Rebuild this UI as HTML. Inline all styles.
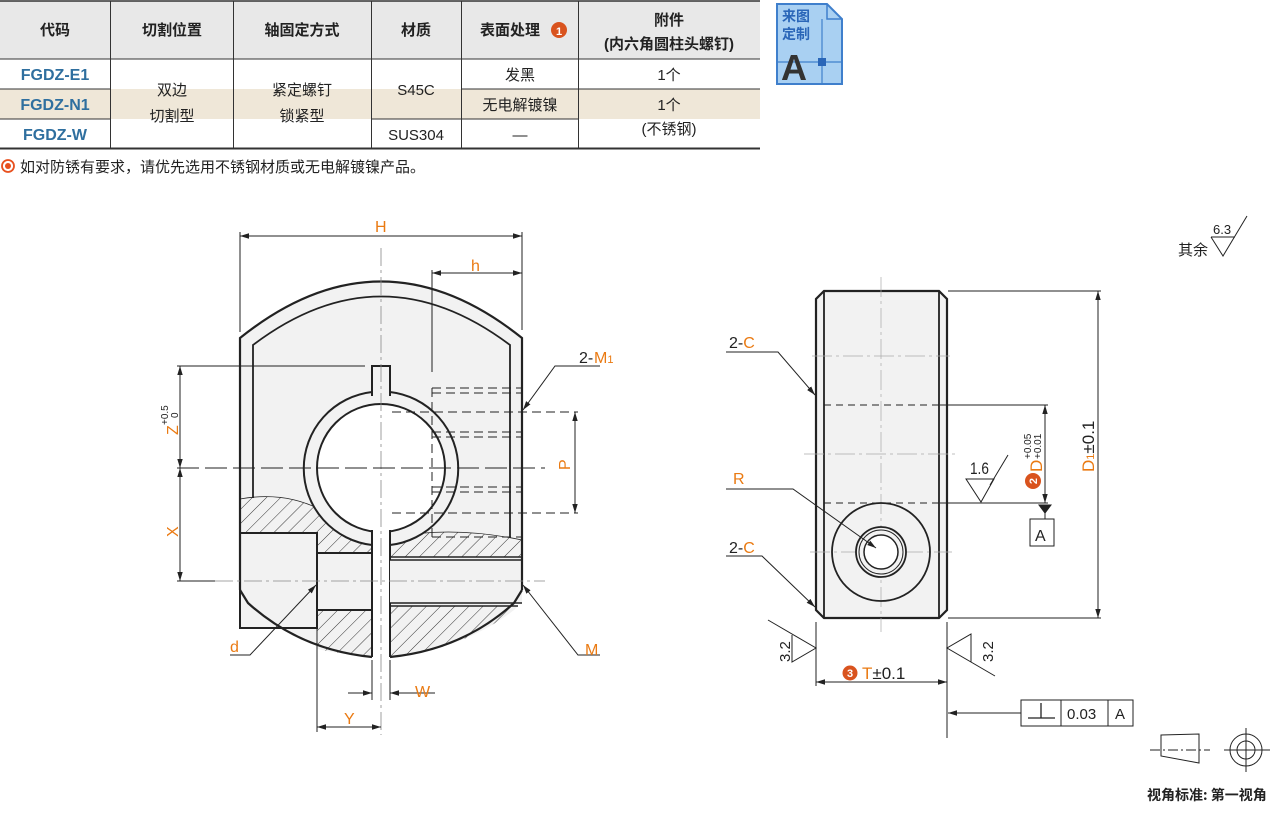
<!DOCTYPE html>
<html><head><meta charset="utf-8"><style>
html,body{margin:0;padding:0;background:#fff;width:1280px;height:816px;overflow:hidden}
svg{display:block}
text{font-family:"Liberation Sans","Noto Sans CJK SC",sans-serif}
.cj{font-family:"Noto Sans CJK SC","Liberation Sans",sans-serif}
.o{fill:#ea7a12}
</style></head><body>
<svg width="1280" height="816" viewBox="0 0 1280 816" xmlns="http://www.w3.org/2000/svg">
<defs>
<pattern id="h" patternUnits="userSpaceOnUse" width="10" height="10" patternTransform="rotate(45)">
<rect width="10" height="10" fill="#f2f2f2"/><line x1="0" y1="0" x2="0" y2="10" stroke="#222" stroke-width="0.9"/></pattern>
<marker id="a" viewBox="0 0 10 10" refX="10" refY="5" markerWidth="9" markerHeight="9" orient="auto-start-reverse" markerUnits="userSpaceOnUse"><path d="M0,2 L10,5 L0,8z" fill="#222"/></marker>
</defs>

<!-- TABLE -->
<rect x="0" y="1" width="760" height="58" fill="#e8e8e8"/>
<rect x="0" y="89" width="760" height="30" fill="#efe7d8"/>
<g stroke="#333" stroke-width="1" fill="none">
<line x1="0" y1="1" x2="760" y2="1" stroke-width="1.5"/>
<line x1="0" y1="59" x2="760" y2="59"/>
<line x1="0" y1="148.5" x2="760" y2="148.5" stroke-width="2"/>
<line x1="110.5" y1="1" x2="110.5" y2="148"/>
<line x1="233.5" y1="1" x2="233.5" y2="148"/>
<line x1="371.5" y1="1" x2="371.5" y2="148"/>
<line x1="461.5" y1="1" x2="461.5" y2="148"/>
<line x1="578.5" y1="1" x2="578.5" y2="148"/>
<line x1="0" y1="89" x2="110" y2="89"/><line x1="461" y1="89" x2="760" y2="89"/>
<line x1="0" y1="119" x2="110" y2="119"/><line x1="371" y1="119" x2="578" y2="119"/>
</g>
<g class="cj" font-size="15" text-anchor="middle" fill="#222">
<g font-weight="bold"><text x="55" y="35">代码</text><text x="172" y="35">切割位置</text><text x="302" y="35">轴固定方式</text><text x="416" y="35">材质</text><text x="510" y="35">表面处理</text>
<text x="669" y="25">附件</text><text x="669" y="49">(内六角圆柱头螺钉)</text></g>
<circle cx="559" cy="30" r="8" fill="#d9531e"/><text x="559" y="35" fill="#fff" font-size="11" font-weight="bold">1</text>
<g font-weight="bold" fill="#2f6f9f" font-size="16"><text x="55" y="80">FGDZ-E1</text><text x="55" y="110">FGDZ-N1</text><text x="55" y="140">FGDZ-W</text></g>
<text x="172" y="95">双边</text><text x="172" y="121">切割型</text>
<text x="302" y="95">紧定螺钉</text><text x="302" y="121">锁紧型</text>
<text x="416" y="95">S45C</text><text x="416" y="140">SUS304</text>
<text x="520" y="80">发黑</text><text x="520" y="110">无电解镀镍</text><text x="520" y="140">—</text>
<text x="669" y="80">1个</text><text x="669" y="110">1个</text><text x="669" y="134">(不锈钢)</text>
</g>
<circle cx="8" cy="166" r="6" fill="none" stroke="#e8501e" stroke-width="1.8"/><circle cx="8" cy="166" r="3" fill="#e8501e"/>
<text class="cj" x="20" y="172" font-size="15" fill="#222">如对防锈有要求，请优先选用不锈钢材质或无电解镀镍产品。</text>

<!-- badge -->
<path d="M777,4 H827 L842,19 V84 H777 Z" fill="#a9d0f2" stroke="#3f7fcc" stroke-width="2"/>
<path d="M827,4 V19 H842" fill="none" stroke="#3f7fcc" stroke-width="1.5"/>
<line x1="777" y1="62" x2="842" y2="62" stroke="#3f7fcc" stroke-width="1.2"/>
<line x1="822" y1="19" x2="822" y2="84" stroke="#3f7fcc" stroke-width="1.2"/>
<rect x="818" y="58" width="8" height="8" fill="#2a66b8"/>
<text class="cj" x="782" y="21" font-size="14" font-weight="bold" fill="#2a66b8">来图</text>
<text class="cj" x="782" y="39" font-size="14" font-weight="bold" fill="#2a66b8">定制</text>
<text x="781" y="80" font-size="36" font-weight="bold" fill="#333">A</text>

<!-- LEFT VIEW -->
<g stroke="#222" fill="none">
<path d="M240,338 Q381,225 522,338 V590 L514,603 Q462,650 390,657 H372 Q300,650 248,603 L240,590 Z" fill="#f2f2f2" stroke="none"/>
<!-- hatches -->
<path d="M240,499 Q290,490 330,515 Q350,528 372,532 V553 H317 V533 H240 Z" fill="url(#h)" stroke="none"/>
<path d="M317,610 H372 V657 Q340,654 317,649 Z" fill="url(#h)" stroke="none"/>
<path d="M390,538 Q450,525 522,540 V557 H390 Z" fill="url(#h)" stroke="none"/>
<path d="M390,606 H518 L514,610 Q462,650 390,657 Z" fill="url(#h)" stroke="none"/>
<path d="M240,499 Q290,490 330,515 Q350,528 372,532" stroke-width="0.8"/>
<path d="M390,538 Q450,525 522,540" stroke-width="0.8"/>
<!-- ring & bore -->
<circle cx="381" cy="468" r="77" fill="#f2f2f2" stroke="none"/>
<circle cx="381" cy="468" r="64" fill="#fff" stroke-width="2"/>
<path d="M390,392 A77,77 0 0 1 390,545 M372,545 A77,77 0 0 1 372,392" stroke-width="2"/>
<rect x="372.5" y="366" width="17" height="30" fill="#f2f2f2" stroke="none"/>
<path d="M372,396 V366 H390 V396" stroke-width="2"/>
<rect x="373" y="528" width="16" height="132" fill="#fff" stroke="none"/>
<path d="M372,530 V657 M390,530 V657" stroke-width="2"/>
<!-- counterbore / holes -->
<rect x="240" y="533" width="77" height="95" fill="#f2f2f2" stroke-width="2"/>
<rect x="318" y="554" width="53" height="55" fill="#f2f2f2" stroke="none"/>
<path d="M317,553 H372 M317,610 H372" stroke-width="2"/>
<rect x="390" y="560" width="132" height="43" fill="#f2f2f2" stroke="none"/>
<path d="M390,557 H522 M390,560 H522 M390,603 H522 M390,606 H518" stroke-width="1.6"/>
<!-- outlines -->
<path d="M240,590 V338 Q381,225 522,338 V590" stroke-width="2.2"/>
<path d="M240,590 L248,603 Q300,650 372,657" stroke-width="2.2"/>
<path d="M522,590 L514,603 Q462,650 390,657" stroke-width="2.2"/>
<path d="M253,498 V345 Q381,248 510,345 V538" stroke-width="1.8"/>
<!-- hidden -->
<g stroke-dasharray="9,5" stroke-width="1">
<path d="M432,388 V537"/>
<path d="M432,388 H522 M432,393 H522 M432,432 H522 M432,437 H522 M432,487 H522 M432,492 H522 M432,537 H522"/>
<path d="M392,412 H578 M392,513 H578"/>
</g>
<!-- centerlines -->
<g stroke="#888" stroke-width="0.8" stroke-dasharray="18,4,3,4">
<path d="M381,248 V735"/><path d="M215,581 H545"/>
</g>
<path d="M177,468 H545" stroke-width="1" stroke-dasharray="22,6"/>
<!-- dims -->
<g stroke-width="1">
<path d="M240,232 V332 M522,232 V330"/>
<path d="M240,236 H522" marker-start="url(#a)" marker-end="url(#a)"/>
<path d="M432,270 V372"/>
<path d="M432,273 H522" marker-start="url(#a)" marker-end="url(#a)"/>
<path d="M177,366 H365 M177,581 H215"/>
<path d="M180,366 V468" marker-start="url(#a)" marker-end="url(#a)"/>
<path d="M180,468 V581" marker-start="url(#a)" marker-end="url(#a)"/>
<path d="M575,412 V513" marker-start="url(#a)" marker-end="url(#a)"/>
<path d="M600,366 H555 L523,410" marker-end="url(#a)"/>
<path d="M600,655 H578 L523,585" marker-end="url(#a)"/>
<path d="M230,655 H250 L316,585" marker-end="url(#a)"/>
<path d="M372,660 V700 M390,660 V700"/>
<path d="M348,693 H372" marker-end="url(#a)"/>
<path d="M435,693 H390" marker-end="url(#a)"/>
<path d="M317,612 V732"/>
<path d="M317,727 H381" marker-start="url(#a)" marker-end="url(#a)"/>
</g>
</g>
<g font-size="16" class="o">
<text x="375" y="232">H</text><text x="471" y="271">h</text>
<text x="579" y="363" fill="#222">2-</text><text x="594" y="363">M<tspan font-size="11">1</tspan></text>
<text x="585" y="655">M</text><text x="230" y="652">d</text>
<text x="415" y="697">W</text><text x="344" y="724">Y</text>
<text transform="translate(570,470) rotate(-90)">P</text>
<text transform="translate(178,537) rotate(-90)">X</text>
<text transform="translate(178,435) rotate(-90)">Z</text>
</g>
<text transform="translate(168,425) rotate(-90)" font-size="10" fill="#222">+0.5</text>
<text transform="translate(178,418) rotate(-90)" font-size="10" fill="#222">0</text>

<!-- RIGHT VIEW -->
<g stroke="#222" fill="none">
<path d="M824,291 H939 L947,299 V610 L939,618 H824 L816,610 V299 Z" fill="#f2f2f2" stroke-width="2.2"/>
<path d="M824,291 V618 M939,291 V618" stroke-width="1.8"/>
<path d="M824,405 H939 M824,503 H939" stroke-dasharray="7,5" stroke-width="1"/>
<g stroke="#aaa" stroke-width="0.7" stroke-dasharray="20,4,3,4">
<path d="M881,277 V632"/><path d="M812,356 H950 M804,454 H955 M810,552 H952"/>
</g>
<circle cx="881" cy="552" r="49" stroke-width="1.8"/>
<circle cx="881" cy="552" r="25" stroke-width="1.8" fill="#f2f2f2"/>
<circle cx="881" cy="552" r="22" stroke-width="1"/>
<circle cx="881" cy="552" r="17" stroke-width="1.5" fill="#fff"/>
<g stroke-width="1">
<path d="M940,405 H1048 M940,503 H1048"/>
<path d="M1045,405 V503" marker-start="url(#a)" marker-end="url(#a)"/>
<path d="M1039,505 H1051 L1045,513 Z" fill="#222"/>
<path d="M1045,513 V519"/>
<rect x="1030" y="519" width="24" height="27"/>
<path d="M948,291 H1101 M948,618 H1101"/>
<path d="M1098,291 V618" marker-start="url(#a)" marker-end="url(#a)"/>
<path d="M816,622 V686 M947,622 V738"/>
<path d="M816,682 H947" marker-start="url(#a)" marker-end="url(#a)"/>
<path d="M966,479 H994 L981,502 Z M990,485 L1008,455"/>
<path d="M768,620 L816,648 L792,662 V635"/>
<path d="M995,676 L947,648 L971,634 V662"/>
<rect x="1021" y="700" width="112" height="26"/>
<path d="M1061,700 V726 M1108,700 V726"/>
<path d="M1021,713 H948" marker-end="url(#a)"/>
<path d="M1028,718 H1055 M1041,703 V718" stroke-width="1.3"/>
<path d="M726,352 H778 L815,395" marker-end="url(#a)"/>
<path d="M726,556 H762 L815,607" marker-end="url(#a)"/>
<path d="M726,489 H793 L876,548" marker-end="url(#a)"/>
</g>
</g>
<text x="1035" y="541" font-size="16" fill="#222">A</text>
<text x="1067" y="719" font-size="15" fill="#222">0.03</text><text x="1115" y="719" font-size="15" fill="#222">A</text>
<text x="970" y="474" font-size="17" fill="#222" transform="translate(970,474) scale(0.8,1) translate(-970,-474)">1.6</text>
<text x="729" y="348" font-size="16" fill="#222">2-<tspan class="o">C</tspan></text>
<text x="729" y="553" font-size="16" fill="#222">2-<tspan class="o">C</tspan></text>
<text x="733" y="484" font-size="16" class="o">R</text>
<circle cx="850" cy="673" r="7.5" fill="#d9531e"/><text x="850" y="677" font-size="11" font-weight="bold" fill="#fff" text-anchor="middle">3</text>
<text x="862" y="679" font-size="17"><tspan class="o">T</tspan><tspan fill="#222">±0.1</tspan></text>
<circle cx="1033" cy="481" r="8" fill="#d9531e"/><text transform="translate(1037,481) rotate(-90)" font-size="11" font-weight="bold" fill="#fff" text-anchor="middle">2</text>
<text transform="translate(1042,472) rotate(-90)" font-size="17" class="o">D</text>
<text transform="translate(1031,459) rotate(-90)" font-size="10" fill="#222">+0.05</text>
<text transform="translate(1041,459) rotate(-90)" font-size="10" fill="#222">+0.01</text>
<text transform="translate(1094,472) rotate(-90)" font-size="17"><tspan class="o">D<tspan font-size="11">1</tspan></tspan><tspan fill="#222">±0.1</tspan></text>
<text transform="translate(790,662) rotate(-90)" font-size="15" fill="#222">3.2</text>
<text transform="translate(993,662) rotate(-90)" font-size="15" fill="#222">3.2</text>

<!-- other roughness -->
<text class="cj" x="1178" y="255" font-size="15" fill="#222">其余</text>
<path d="M1211,237 L1223,256 L1247,216 M1211,237 H1235" stroke="#222" fill="none" stroke-width="1"/>
<text x="1213" y="234" font-size="13" fill="#222">6.3</text>

<!-- projection symbol -->
<g stroke="#222" fill="none" stroke-width="1">
<path d="M1161,735 L1199,734 V763 L1161,756 Z"/>
<path d="M1150,750 H1210" stroke-dasharray="10,3,2,3"/>
<circle cx="1246" cy="750" r="16"/><circle cx="1246" cy="750" r="9"/>
<path d="M1224,750 H1270 M1246,728 V772"/>
</g>
<text class="cj" x="1147" y="800" font-size="14" font-weight="bold" fill="#222">视角标准: 第一视角</text>
</svg>
</body></html>
